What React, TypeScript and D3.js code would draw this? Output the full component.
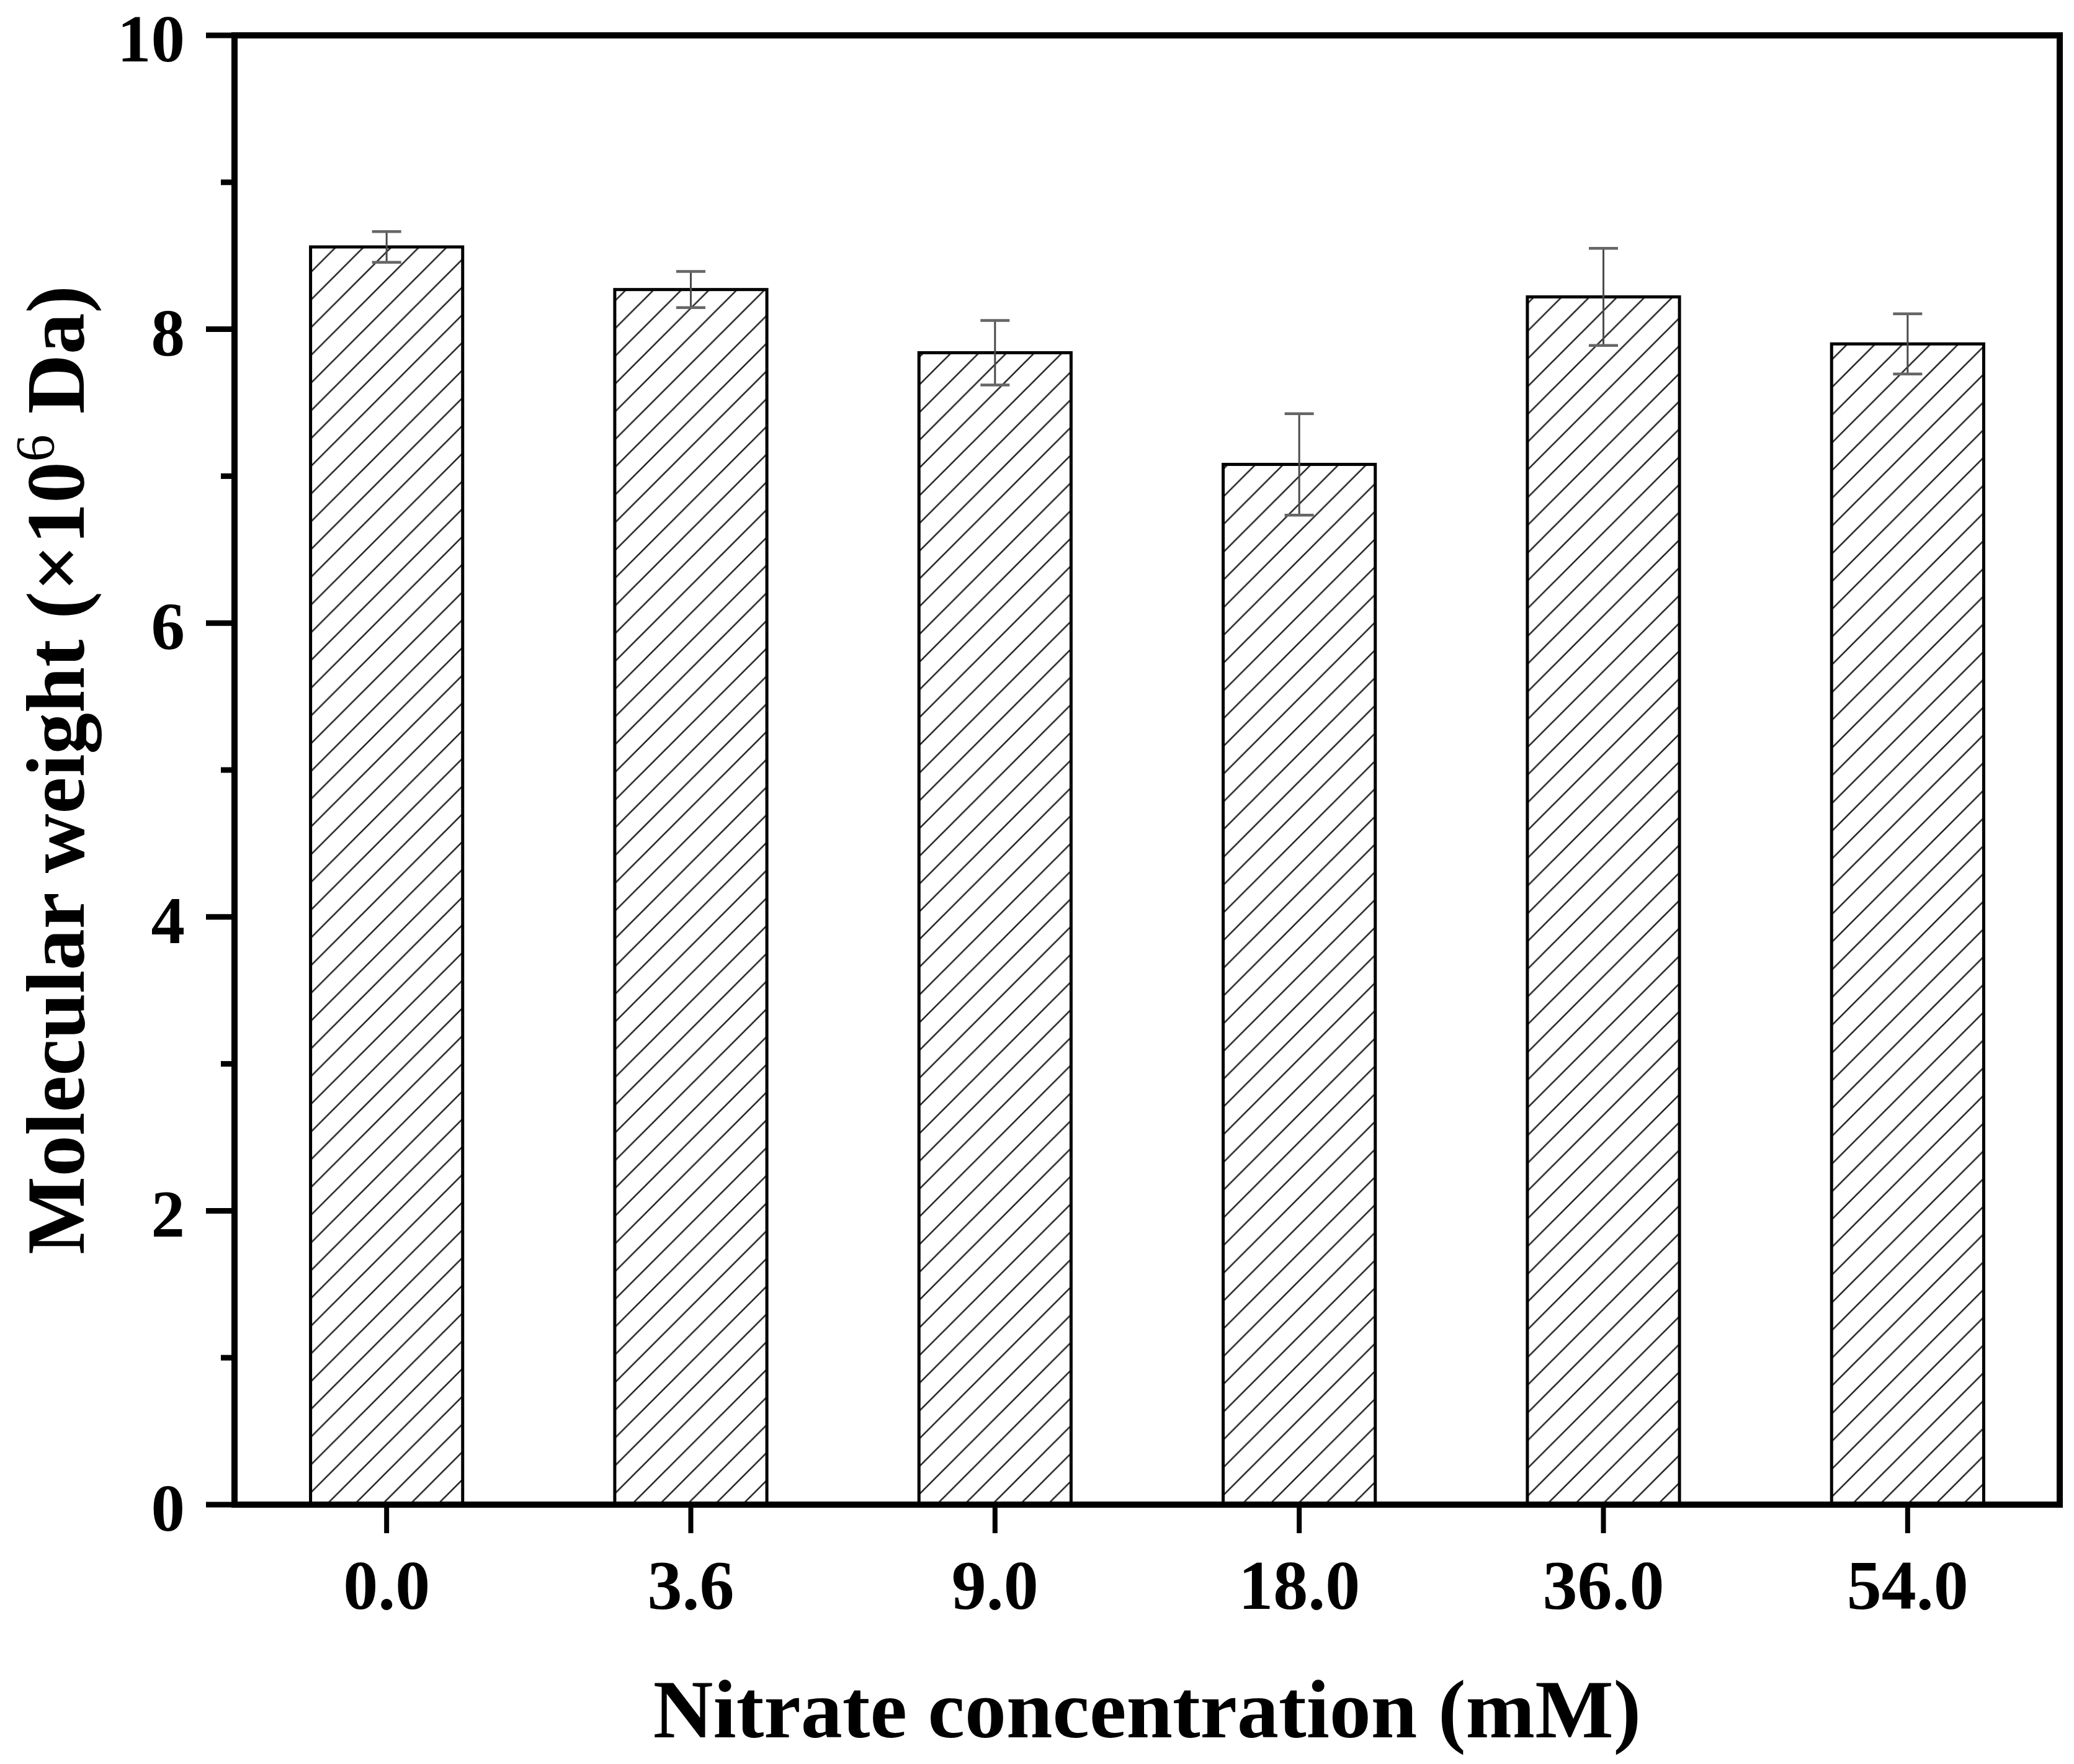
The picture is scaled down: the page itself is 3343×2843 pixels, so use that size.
import { useEffect, useRef } from 'react';
import * as d3 from 'd3';

// Data
const concentrations = ['0.0', '3.6', '9.0', '18.0', '36.0', '54.0'];
const molecularWeight = [8.56, 8.27, 7.84, 7.08, 8.22, 7.9];
const errors = [0.105, 0.123, 0.22, 0.345, 0.33, 0.205];
const majorTicks = [0, 2, 4, 6, 8, 10];
const minorTicks = [1, 3, 5, 7, 9];

const WIDTH = 3343;
const HEIGHT = 2843;
const FONT = '"Liberation Serif", "Times New Roman", Times, serif';

const MolecularWeightChart = () => {
  const svgRef = useRef<SVGSVGElement>(null);

  useEffect(() => {
    if (!svgRef.current) return;
    const root = d3.select(svgRef.current);
    root.selectAll('*').remove();

    const margin = { top: 57, right: 23, bottom: 418, left: 378 };
    const x0 = margin.left;
    const x1 = WIDTH - margin.right;
    const y0 = HEIGHT - margin.bottom;
    const y1 = margin.top;

    root.attr('width', WIDTH).attr('height', HEIGHT);

    // Hatch pattern (global, user space)
    const p = 44.7;
    const defs = root.append('defs');
    defs.append('pattern')
      .attr('id', 'hatch')
      .attr('patternUnits', 'userSpaceOnUse')
      .attr('x', 1)
      .attr('y', 0)
      .attr('width', p)
      .attr('height', p)
      .append('path')
      .attr('d', `M0,${p} L${p},0 M${-p / 4},${p / 4} L${p / 4},${-p / 4} M${(3 * p) / 4},${(5 * p) / 4} L${(5 * p) / 4},${(3 * p) / 4}`)
      .attr('stroke', '#222')
      .attr('stroke-width', 2.6);

    // Scales
    const x = d3.scaleBand<string>()
      .domain(concentrations)
      .range([x0, x1])
      .paddingInner(0.5)
      .paddingOuter(0.25);

    const y = d3.scaleLinear()
      .domain([0, 10])
      .range([y0, y1]);

    const data = concentrations.map((c, i) => ({ c, v: molecularWeight[i], e: errors[i] }));

    // Bars
    root.selectAll('.bar')
      .data(data)
      .enter()
      .append('rect')
      .attr('class', 'bar')
      .attr('x', d => x(d.c)!)
      .attr('y', d => y(d.v))
      .attr('width', x.bandwidth())
      .attr('height', d => y(0) - y(d.v))
      .attr('fill', 'url(#hatch)')
      .attr('stroke', '#000')
      .attr('stroke-width', 5);

    // Error bars
    const capHalf = 23.5;
    const err = root.selectAll('.err')
      .data(data)
      .enter()
      .append('g')
      .attr('class', 'err')
      .attr('stroke', '#4a4a4a');
    err.append('line')
      .attr('x1', d => x(d.c)! + x.bandwidth() / 2)
      .attr('x2', d => x(d.c)! + x.bandwidth() / 2)
      .attr('y1', d => y(d.v + d.e))
      .attr('y2', d => y(d.v - d.e))
      .attr('stroke-width', 3);
    err.append('line')
      .attr('x1', d => x(d.c)! + x.bandwidth() / 2 - capHalf)
      .attr('x2', d => x(d.c)! + x.bandwidth() / 2 + capHalf)
      .attr('y1', d => y(d.v + d.e))
      .attr('y2', d => y(d.v + d.e))
      .attr('stroke', '#666')
      .attr('stroke-width', 4.5);
    err.append('line')
      .attr('x1', d => x(d.c)! + x.bandwidth() / 2 - capHalf)
      .attr('x2', d => x(d.c)! + x.bandwidth() / 2 + capHalf)
      .attr('y1', d => y(d.v - d.e))
      .attr('y2', d => y(d.v - d.e))
      .attr('stroke', '#666')
      .attr('stroke-width', 4.5);

    // Y ticks (outward)
    root.selectAll('.ytick-major')
      .data(majorTicks)
      .enter()
      .append('line')
      .attr('x1', x0 - 46)
      .attr('x2', x0)
      .attr('y1', d => y(d))
      .attr('y2', d => y(d))
      .attr('stroke', '#000')
      .attr('stroke-width', 9);
    root.selectAll('.ytick-minor')
      .data(minorTicks)
      .enter()
      .append('line')
      .attr('x1', x0 - 22)
      .attr('x2', x0)
      .attr('y1', d => y(d))
      .attr('y2', d => y(d))
      .attr('stroke', '#000')
      .attr('stroke-width', 9);

    root.selectAll('.ylabel')
      .data(majorTicks)
      .enter()
      .append('text')
      .attr('x', 298)
      .attr('y', d => y(d) + 42)
      .attr('text-anchor', 'end')
      .attr('font-family', FONT)
      .attr('font-weight', 'bold')
      .attr('font-size', 109)
      .attr('fill', '#000')
      .text(d => d);

    // X ticks (outward)
    root.selectAll('.xtick')
      .data(concentrations)
      .enter()
      .append('line')
      .attr('x1', d => x(d)! + x.bandwidth() / 2)
      .attr('x2', d => x(d)! + x.bandwidth() / 2)
      .attr('y1', y0)
      .attr('y2', y0 + 46)
      .attr('stroke', '#000')
      .attr('stroke-width', 8);

    root.selectAll('.xlabel')
      .data(concentrations)
      .enter()
      .append('text')
      .attr('x', d => x(d)! + x.bandwidth() / 2)
      .attr('y', 2593)
      .attr('text-anchor', 'middle')
      .attr('font-family', FONT)
      .attr('font-weight', 'bold')
      .attr('font-size', 112)
      .attr('fill', '#000')
      .text(d => d);

    // Frame
    root.append('rect')
      .attr('x', x0)
      .attr('y', y1)
      .attr('width', x1 - x0)
      .attr('height', y0 - y1)
      .attr('fill', 'none')
      .attr('stroke', '#000')
      .attr('stroke-width', 10);

    // Axis titles
    root.append('text')
      .attr('x', (x0 + x1) / 2)
      .attr('y', 2800)
      .attr('text-anchor', 'middle')
      .attr('font-family', FONT)
      .attr('font-weight', 'bold')
      .attr('font-size', 134)
      .attr('fill', '#000')
      .text('Nitrate concentration (mM)');

    const yTitle = root.append('text')
      .attr('transform', `translate(135, ${(y0 + y1) / 2}) rotate(-90)`)
      .attr('text-anchor', 'middle')
      .attr('font-family', FONT)
      .attr('font-weight', 'bold')
      .attr('font-size', 133)
      .attr('fill', '#000');
    yTitle.append('tspan').text('Molecular weight (×10');
    yTitle.append('tspan')
      .attr('font-size', 88)
      .attr('font-weight', 'normal')
      .attr('dy', -49)
      .text('6');
    yTitle.append('tspan')
      .attr('dy', 49)
      .text(' Da)');
  }, []);

  return (
    <svg
      ref={svgRef}
      style={{ position: 'absolute', left: 0, top: 0, background: '#fff', display: 'block' }}
    />
  );
};

const App = () => <MolecularWeightChart />;

export default App;
